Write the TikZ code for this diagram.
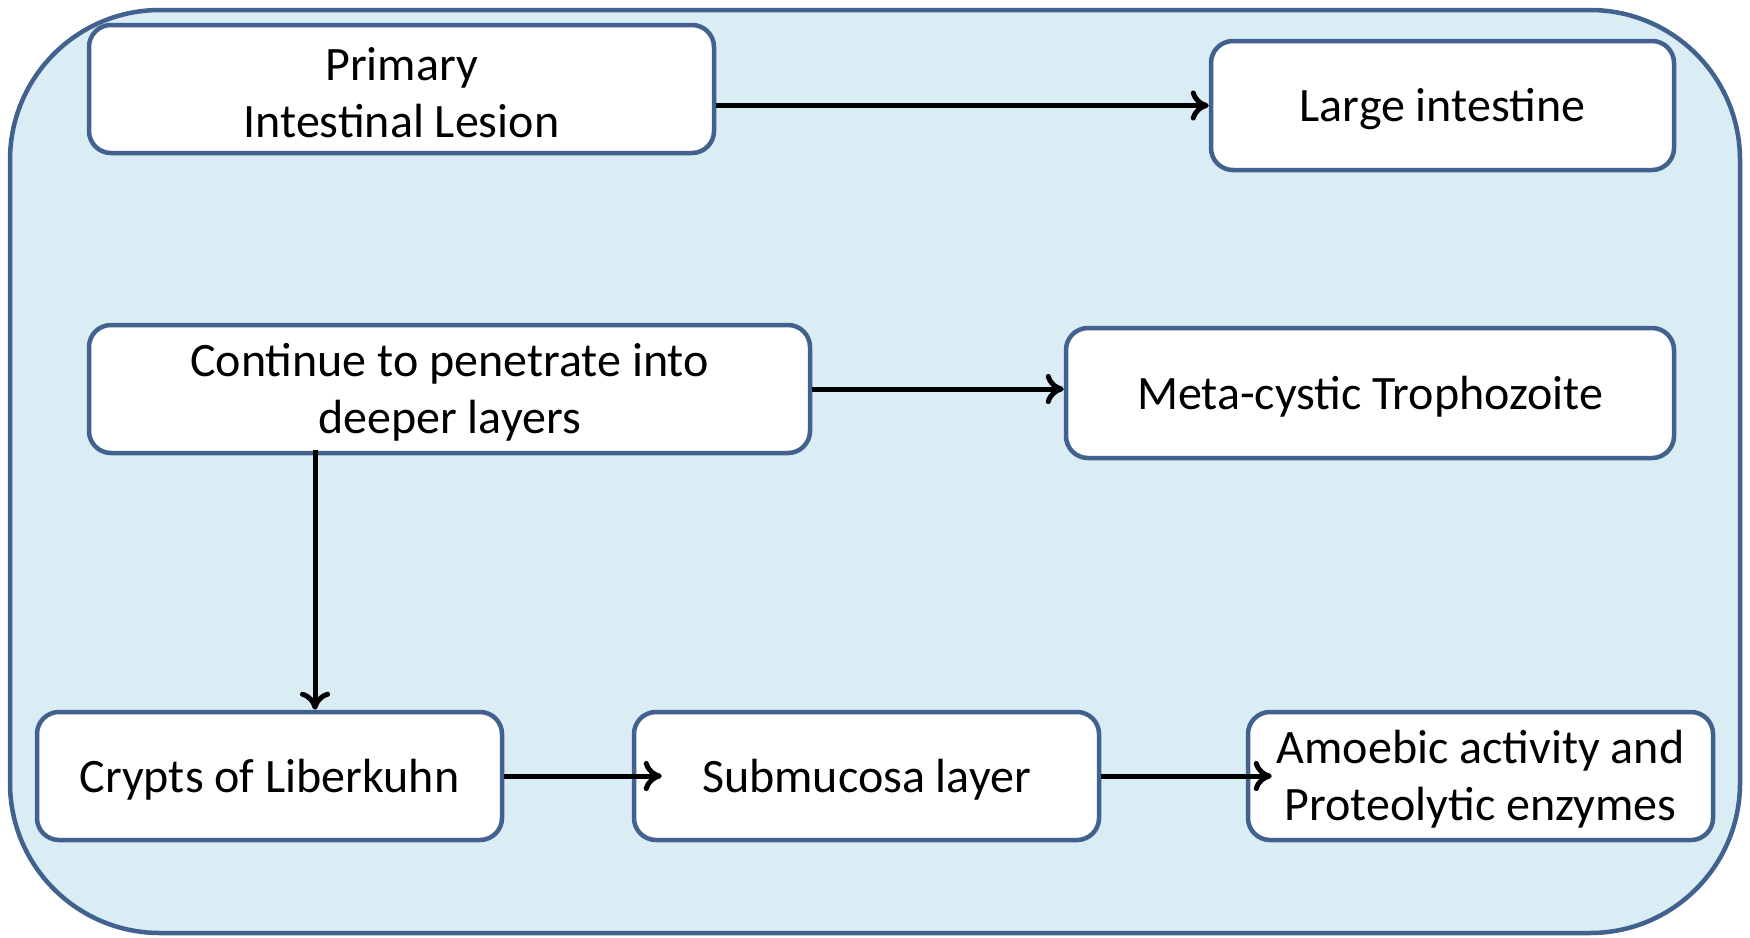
\documentclass[tikz,border=0pt]{standalone}
\usepackage{fontspec}
\setmainfont{Carlito}
\usetikzlibrary{arrows.meta}
\definecolor{frameblue}{HTML}{41628F}
\definecolor{panelfill}{HTML}{DAEDF4}
\newcommand{\tallstrut}{\rule{0pt}{40pt}}
\tikzset{
  stepbox/.style={draw=frameblue, line width=4.5pt, fill=white, rounded corners=22pt,
    align=center, inner sep=0pt, font=\fontsize{48}{57}\selectfont},
  flow/.style={draw=black, line width=5pt, -{To[length=18pt,width=30pt,line width=5pt]}},
}
\begin{document}
\begin{tikzpicture}[x=1pt,y=-1pt]
\useasboundingbox (0,0) rectangle (1750,937);
% background panel
\draw[draw=frameblue, fill=panelfill, line width=4.5pt, rounded corners=150pt] (10,10) rectangle (1740,933);
% steps
\node[stepbox, minimum width=625pt, minimum height=128pt] (lesion) at (401.5,89) {\tallstrut Primary\\Intestinal Lesion};
\node[stepbox, minimum width=463pt, minimum height=129pt] (large) at (1442.5,105.5) {\tallstrut Large intestine};
\node[stepbox, minimum width=721pt, minimum height=128pt] (deeper) at (449.5,389) {\tallstrut Continue to penetrate into\\deeper layers};
\node[stepbox, minimum width=608pt, minimum height=130pt] (meta) at (1370,393) {\tallstrut Meta-cystic Trophozoite};
\node[stepbox, minimum width=465pt, minimum height=128pt] (crypts) at (269.5,776) {\tallstrut Crypts of Liberkuhn};
\node[stepbox, minimum width=465pt, minimum height=128pt] (submucosa) at (866.5,776) {\tallstrut Submucosa layer};
\node[stepbox, minimum width=465pt, minimum height=128pt] (amoebic) at (1480.5,776) {\tallstrut Amoebic activity and\\Proteolytic enzymes};
% connectors
\draw[flow] (lesion.east |- large.west) -- (large.west);
\draw[flow] (deeper.east) -- (deeper.east -| meta.west);
\draw[flow] ([xshift=-134.5pt,yshift=5pt]deeper.south) -- ([xshift=-134.5pt]deeper.south |- crypts.north);
\draw[flow] (crypts.east) -- ([xshift=30pt]submucosa.west);
\draw[flow] (submucosa.east) -- ([xshift=26pt]amoebic.west);
\end{tikzpicture}
\end{document}
